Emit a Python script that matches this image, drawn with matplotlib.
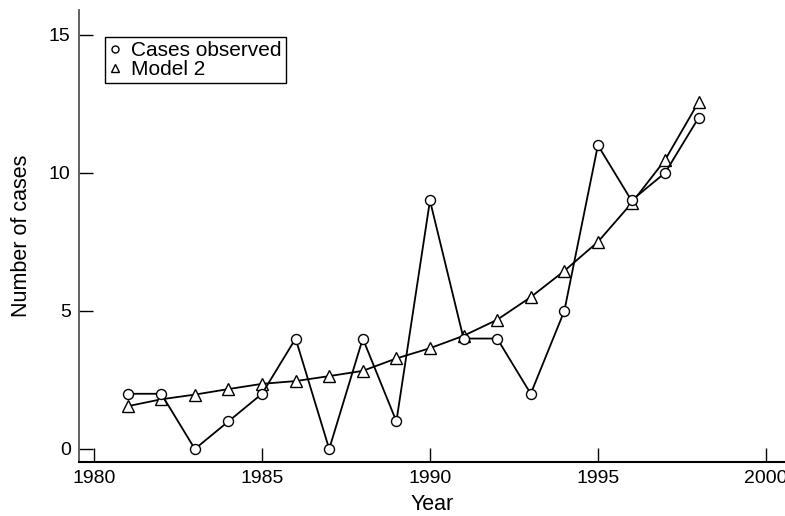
"""Observed cases vs Model 2 by year."""

import matplotlib
matplotlib.use('Agg')
import matplotlib.pyplot as plt

plt.rcParams['font.family'] = ['Liberation Sans', 'DejaVu Sans']

years = [1981, 1982, 1983, 1984, 1985, 1986, 1987, 1988, 1989,
         1990, 1991, 1992, 1993, 1994, 1995, 1996, 1997, 1998]
cases_observed = [2, 2, 0, 1, 2, 4, 0, 4, 1, 9, 4, 4, 2, 5, 11, 9, 10, 12]
model_2 = [1.55, 1.8, 1.97, 2.17, 2.36, 2.46, 2.64, 2.83, 3.28,
           3.65, 4.1, 4.68, 5.5, 6.45, 7.5, 8.9, 10.47, 12.57]

x_ticks = [1980, 1985, 1990, 1995, 2000]
y_ticks = [0, 5, 10, 15]

fig = plt.figure(figsize=(7.85, 5.16), dpi=100)
ax = fig.add_axes([0.1006, 0.1047, 0.8994, 0.876])

ax.plot(years, cases_observed, color='black', lw=1.3, marker='o', ms=7.2,
        mfc='white', mec='black', mew=1.0, label='Cases observed', zorder=3)
ax.plot(years, model_2, color='black', lw=1.3, marker='^', ms=8,
        mfc='white', mec='black', mew=1.0, label='Model 2', zorder=2)

ax.set_xlim(1979.55, 2000.57)
ax.set_ylim(-0.47, 15.9)
ax.set_xticks(x_ticks)
ax.set_yticks(y_ticks)
ax.tick_params(direction='in', length=10, width=1.0, labelsize=14, pad=6)

for side in ('top', 'right'):
    ax.spines[side].set_visible(False)
ax.spines['left'].set_color('#555555')
ax.spines['left'].set_linewidth(1.3)
ax.spines['bottom'].set_linewidth(1.5)

ax.set_xlabel('Year', fontsize=15.5, labelpad=5)
ax.set_ylabel('Number of cases', fontsize=15.5, labelpad=12)

leg = ax.legend(loc='upper left', bbox_to_anchor=(0.037, 0.94), fontsize=15,
                frameon=True, fancybox=False, edgecolor='black', framealpha=1,
                handlelength=0.55, handletextpad=0.5, borderpad=0.2,
                labelspacing=0.0, markerscale=0.7, borderaxespad=0)
leg.get_frame().set_linewidth(1.0)
for line in leg.get_lines():
    line.set_linestyle('none')

fig.savefig('out.png', dpi=100)
